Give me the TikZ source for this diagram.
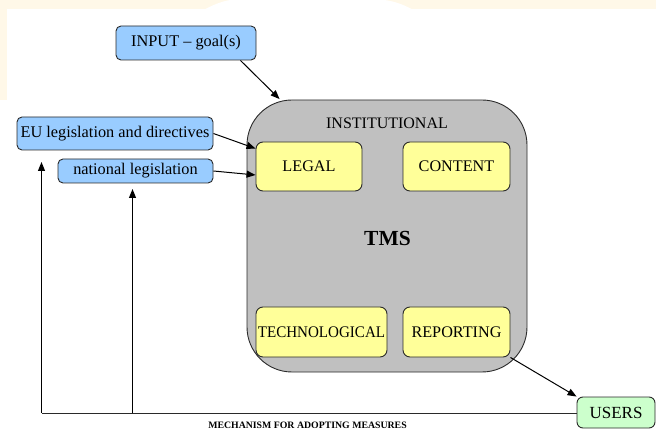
\documentclass[tikz,border=0pt]{standalone}
\usepackage{graphicx}
\usepackage{fontspec}
\setmainfont{Liberation Serif}
\usetikzlibrary{arrows.meta}
\definecolor{cream}{HTML}{FFF8E8}
\definecolor{bluef}{HTML}{99CCFF}
\definecolor{grayf}{HTML}{C0C0C0}
\definecolor{yellowf}{HTML}{FFFF99}
\definecolor{greenf}{HTML}{CCFFCC}
\definecolor{edge}{HTML}{2A2A2A}
\tikzset{
  bluebox/.style={draw=edge, line width=0.9pt, fill=bluef, rounded corners=5pt, inner sep=0pt, font=\fontsize{16.3}{18}\selectfont},
  yellowbox/.style={draw=edge, line width=0.9pt, fill=yellowf, rounded corners=7pt, inner sep=0pt, font=\fontsize{16.2}{18}\selectfont},
  greenbox/.style={draw=edge, line width=0.9pt, fill=greenf, rounded corners=6pt, inner sep=0pt, font=\fontsize{17}{19}\selectfont},
  conn/.style={draw=black, line width=1pt, -{Triangle[length=9pt,width=7pt]}},
  plainline/.style={draw=edge, line width=1pt},
}
\begin{document}
\begin{tikzpicture}[x=1pt,y=-1pt]
\useasboundingbox (0,0) rectangle (656,430);
% background decoration
\fill[cream] (0,0) rectangle (656,9);
\fill[cream] (0,0) rectangle (7,100);
\fill[white] (205,9.2) .. controls (215,4) and (225,0) .. (235,-0.5) -- (378,-0.5) .. controls (392,0) and (402,4) .. (412,9.2) -- cycle;
% gray TMS box
\node[draw=edge, line width=0.9pt, fill=grayf, rounded corners=45pt, minimum width=280pt, minimum height=272pt, inner sep=0pt] (tms) at (387,236) {};
\node[font=\fontsize{16}{18}\selectfont] (inst) at (387,123) {INSTITUTIONAL};
\node[font=\fontsize{21.5}{24}\selectfont\bfseries] (tmslabel) at (387.5,238) {TMS};
% inner boxes
\node[yellowbox, minimum width=106pt, minimum height=49pt] (legal) at (309,166.5) {LEGAL};
\node[yellowbox, minimum width=107pt, minimum height=49pt] (content) at (456.5,166.5) {CONTENT};
\node[yellowbox, minimum width=131pt, minimum height=50pt] (tech) at (321.5,332) {\scalebox{0.93}[1]{TECHNOLOGICAL}};
\node[yellowbox, minimum width=107pt, minimum height=50pt] (rep) at (456.5,332) {REPORTING};
% blue boxes
\node[bluebox, minimum width=140pt, minimum height=34pt] (input) at (186,43) {INPUT – goal(s)};
\node[bluebox, minimum width=196pt, minimum height=33pt] (eu) at (115,133.5) {EU legislation and directives};
\node[bluebox, minimum width=155pt, minimum height=24pt] (nat) at (135.5,171) {national legislation};
% users
\node[greenbox, minimum width=78pt, minimum height=31pt] (users) at (616,412.5) {USERS};
% label
\node[font=\fontsize{9.8}{11}\selectfont\bfseries] (mech) at (307.5,425.5) {MECHANISM FOR ADOPTING MEASURES};
% connectors
\draw[conn] ([xshift=-16pt]input.south east) -- ([xshift=33pt,yshift=0.5pt]tms.north west);
\draw[conn] (eu.east) -- ([yshift=-7pt]legal.north west);
\draw[conn] (nat.east) -- ([yshift=-8.5pt]legal.west);
\draw[conn] (rep.south east) -- (users.north west);
\coordinate (c1) at (41.5,413);
\coordinate (c2) at (132.5,413);
\coordinate (t1) at (41.5,162);
\coordinate (t2) at (132.5,189);
\draw[plainline] (users.west |- c1) -- (c1);
\draw[conn] (c1) -- (t1);
\draw[conn] (c2) -- (t2);
\end{tikzpicture}
\end{document}
